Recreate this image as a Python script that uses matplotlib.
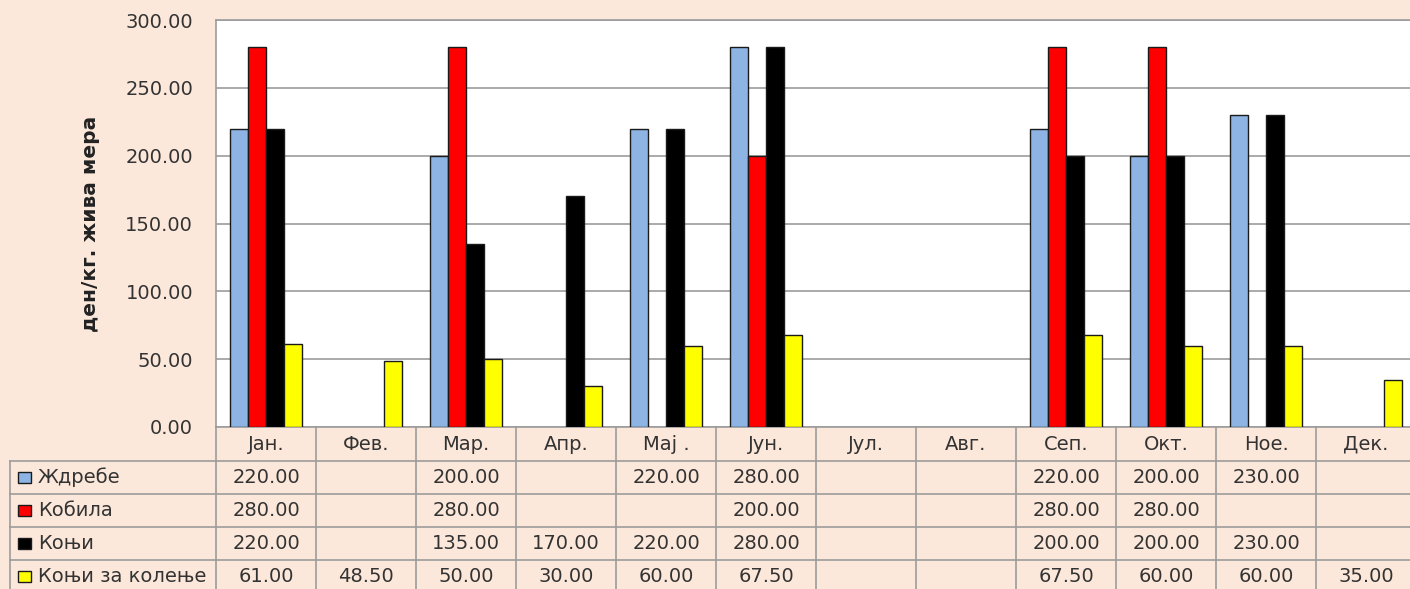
import numpy as np
import matplotlib
matplotlib.use("Agg")
import matplotlib.pyplot as plt
from matplotlib.patches import Rectangle
from matplotlib.transforms import blended_transform_factory
from matplotlib.ticker import FormatStrFormatter

plt.rcParams["font.family"] = ["DejaVu Sans"]

months = ["Јан.", "Фев.", "Мар.", "Апр.", "Мај .", "Јун.",
          "Јул.", "Авг.", "Сеп.", "Окт.", "Ное.", "Дек."]

series_names = ["Ждребе", "Кобила", "Коњи", "Коњи за колење"]
zdrebe = [220, None, 200, None, 220, 280, None, None, 220, 200, 230, None]
kobila = [280, None, 280, None, None, 200, None, None, 280, 280, None, None]
konji = [220, None, 135, 170, 220, 280, None, None, 200, 200, 230, None]
konji_kolenje = [61, 48.5, 50, 30, 60, 67.5, None, None, 67.5, 60, 60, 35]

colors = ["#8DB4E2", "#FF0000", "#000000", "#FFFF00"]
bg = "#FCE8DA"
grid_col = "#9C9C9C"
text_col = "#333333"
fs = 14

W, H = 1410, 589
fig = plt.figure(figsize=(W / 100, H / 100), dpi=100, facecolor=bg)

# plot area in pixels: left 216, top 20, bottom 427, 100 px per month
ax_l, ax_t, ax_b, col_w = 216, 20, 427, 100
ax_h = ax_b - ax_t
ax = fig.add_axes([ax_l / W, 1 - ax_b / H, 12 * col_w / W, ax_h / H])
ax.set_facecolor("white")

x = np.arange(len(months))
bw = 0.18
all_series = [zdrebe, kobila, konji, konji_kolenje]
for k, vals in enumerate(all_series):
    v = np.array([np.nan if a is None else a for a in vals], dtype=float)
    ax.bar(x + (k - 1.5) * bw, v, width=bw, color=colors[k],
           edgecolor="#1a1a1a", linewidth=1.0, zorder=3)

ax.set_xlim(-0.5, 11.5)
ax.set_ylim(0, 300)
ax.set_yticks(np.arange(0, 301, 50))
ax.yaxis.set_major_formatter(FormatStrFormatter("%.2f"))
ax.set_xticks([])
ax.grid(axis="y", color=grid_col, linewidth=1.2, zorder=0)
for s in ax.spines.values():
    s.set_color(grid_col)
    s.set_linewidth(1.2)
ax.tick_params(axis="y", length=0, pad=16.5, labelsize=fs, labelcolor=text_col)

ax.set_ylabel("ден/кг. жива мера", fontsize=14.5, fontweight="bold", color="#222222")
ax.yaxis.set_label_coords(-(ax_l - 100) / (12 * col_w), 0.5)

# data table under the plot: x in month units, y in axes fraction
tr = blended_transform_factory(ax.transData, ax.transAxes)
px = 1.0 / ax_h
hdr_h = 34 * px
row_h = 33 * px
left = -0.5 - (ax_l - 10) / col_w
right = 11.5
n_rows = len(series_names)
y_hdr_bot = -hdr_h
y_bottom = y_hdr_bot - n_rows * row_h

line_kw = dict(color=grid_col, linewidth=1.2, transform=tr, clip_on=False)

# horizontal lines
for r in range(n_rows + 1):
    yy = y_hdr_bot - r * row_h
    ax.plot([left, right], [yy, yy], **line_kw)
# vertical lines
for i in range(len(months) + 1):
    xx = -0.5 + i
    ax.plot([xx, xx], [0, y_bottom], **line_kw)
ax.plot([left, left], [y_hdr_bot, y_bottom], **line_kw)

# header
for i, m in enumerate(months):
    ax.text(i, -hdr_h / 2, m, transform=tr, ha="center", va="center",
            fontsize=fs, color=text_col, clip_on=False)

# rows with legend keys and values
for r, (name, vals) in enumerate(zip(series_names, all_series)):
    yc = y_hdr_bot - (r + 0.5) * row_h
    ax.add_patch(Rectangle((left + 0.08, yc - 5 * px), 0.13, 11 * px,
                           transform=tr, facecolor=colors[r],
                           edgecolor="#1a1a1a", linewidth=1.0, clip_on=False))
    ax.text(left + 0.28, yc, name, transform=tr, ha="left", va="center",
            fontsize=fs, color=text_col, clip_on=False)
    for i, v in enumerate(vals):
        if v is not None:
            ax.text(i, yc, f"{v:.2f}", transform=tr, ha="center", va="center",
                    fontsize=fs, color=text_col, clip_on=False)

fig.savefig("out.png", dpi=100, facecolor=bg)
